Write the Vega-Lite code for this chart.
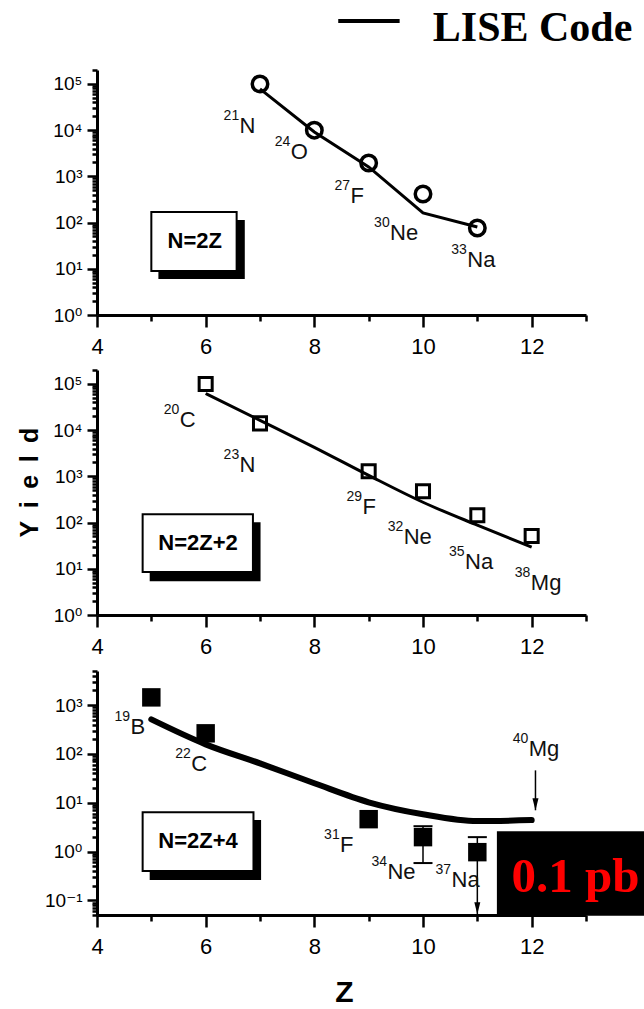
{
  "$schema": "https://vega.github.io/schema/vega-lite/v6.json",
  "width": 644,
  "height": 1009,
  "autosize": {"type": "none"},
  "padding": 0,
  "background": "white",
  "config": {
    "view": {"stroke": null},
    "axis": {
      "grid": false,
      "domainColor": "black",
      "domainWidth": 3,
      "tickColor": "black",
      "tickWidth": 2.5,
      "labelColor": "black",
      "labelOverlap": false,
      "labelFlush": false,
      "labelFont": "Liberation Sans, DejaVu Sans, sans-serif"
    }
  },
  "datasets": {
    "p1": [
      {"kind": "shadow", "x": 5.13, "x2": 6.72, "y": 6.0, "y2": 114},
      {"kind": "box", "x": 5.0, "x2": 6.57, "y": 8.96, "y2": 169},
      {"kind": "boxtext", "x": 5.8, "y": 40, "text": "N=2Z"},
      {"kind": "lise", "x": 7, "y": 78000},
      {"kind": "lise", "x": 8, "y": 9100},
      {"kind": "lise", "x": 9, "y": 1600},
      {"kind": "lise", "x": 10, "y": 162},
      {"kind": "lise", "x": 11, "y": 80},
      {"kind": "meas", "x": 7, "y": 100000},
      {"kind": "meas", "x": 8, "y": 10000},
      {"kind": "meas", "x": 9, "y": 1950},
      {"kind": "meas", "x": 10, "y": 415},
      {"kind": "meas", "x": 11, "y": 76},
      {"kind": "label", "x": 6.33, "y": 8700, "sup": "21", "sym": "N"},
      {"kind": "label", "x": 7.27, "y": 2380, "sup": "24", "sym": "O"},
      {"kind": "label", "x": 8.37, "y": 266, "sup": "27", "sym": "F"},
      {"kind": "label", "x": 9.1, "y": 42, "sup": "30", "sym": "Ne"},
      {"kind": "label", "x": 10.52, "y": 10.9, "sup": "33", "sym": "Na"},
      {"kind": "legline", "x": 8.44, "x2": 9.57, "y": 2300000},
      {"kind": "legtext", "x": 10.18, "y": 850000, "text": "LISE Code"}
    ],
    "p2": [
      {"kind": "shadow", "x": 4.97, "x2": 7.01, "y": 5.4, "y2": 102},
      {"kind": "box", "x": 4.84, "x2": 6.87, "y": 8.5, "y2": 152},
      {"kind": "boxtext", "x": 5.86, "y": 35.9, "text": "N=2Z+2"},
      {"kind": "lise", "x": 6, "y": 62000},
      {"kind": "lise", "x": 7, "y": 16300},
      {"kind": "lise", "x": 8, "y": 4250},
      {"kind": "lise", "x": 9, "y": 1050},
      {"kind": "lise", "x": 10, "y": 275},
      {"kind": "lise", "x": 11, "y": 88},
      {"kind": "lise", "x": 12, "y": 29.4},
      {"kind": "meas", "x": 6, "y": 100000},
      {"kind": "meas", "x": 7, "y": 14000},
      {"kind": "meas", "x": 9, "y": 1290},
      {"kind": "meas", "x": 10, "y": 476},
      {"kind": "meas", "x": 11, "y": 144},
      {"kind": "meas", "x": 12, "y": 51},
      {"kind": "label", "x": 5.23, "y": 11500, "sup": "20", "sym": "C"},
      {"kind": "label", "x": 6.33, "y": 1230, "sup": "23", "sym": "N"},
      {"kind": "label", "x": 8.59, "y": 152, "sup": "29", "sym": "F"},
      {"kind": "label", "x": 9.35, "y": 34, "sup": "32", "sym": "Ne"},
      {"kind": "label", "x": 10.48, "y": 9.9, "sup": "35", "sym": "Na"},
      {"kind": "label", "x": 11.69, "y": 3.4, "sup": "38", "sym": "Mg"}
    ],
    "p3": [
      {"kind": "shadow", "x": 4.97, "x2": 7.02, "y": 0.26, "y2": 4.4},
      {"kind": "box", "x": 4.84, "x2": 6.88, "y": 0.4, "y2": 6.4},
      {"kind": "boxtext", "x": 5.86, "y": 1.63, "text": "N=2Z+4"},
      {"kind": "lise", "x": 5, "y": 509},
      {"kind": "lise", "x": 6, "y": 157},
      {"kind": "lise", "x": 7, "y": 64},
      {"kind": "lise", "x": 8, "y": 25},
      {"kind": "lise", "x": 9, "y": 10.2},
      {"kind": "lise", "x": 10, "y": 5.8},
      {"kind": "lise", "x": 11, "y": 4.2},
      {"kind": "lise", "x": 12, "y": 4.4},
      {"kind": "meas", "x": 5, "y": 1440},
      {"kind": "meas", "x": 6, "y": 264},
      {"kind": "meas", "x": 9, "y": 4.6},
      {"kind": "meas", "x": 10, "y": 1.97},
      {"kind": "meas", "x": 11, "y": 0.97},
      {"kind": "err", "x": 10, "y": 0.58, "y2": 3.3},
      {"kind": "arrow", "x": 11, "y": 0.052, "y2": 1.97},
      {"kind": "arrow", "x": 12.07, "y": 7.0, "y2": 46},
      {"kind": "cap", "x": 10, "y": 3.3},
      {"kind": "cap", "x": 10, "y": 0.58},
      {"kind": "cap", "x": 11, "y": 1.97},
      {"kind": "label", "x": 4.32, "y": 251, "sup": "19", "sym": "B"},
      {"kind": "label", "x": 5.44, "y": 44, "sup": "22", "sym": "C"},
      {"kind": "label", "x": 8.18, "y": 1.0, "sup": "31", "sym": "F"},
      {"kind": "label", "x": 9.05, "y": 0.27, "sup": "34", "sym": "Ne"},
      {"kind": "label", "x": 10.23, "y": 0.187, "sup": "37", "sym": "Na"},
      {"kind": "label", "x": 11.65, "y": 89, "sup": "40", "sym": "Mg"},
      {"kind": "note", "x": 11.36, "x2": 14.5, "y": 0.048, "y2": 2.6},
      {"kind": "notetext", "x": 11.63, "y": 0.148, "text": "0.1 pb"}
    ]
  },
  "layer": [
    {
      "data": {"name": "p1"},
      "encoding": {
        "x": {"field": "x", "type": "quantitative",
          "scale": {"domain": [4, 13], "range": [97, 586], "nice": false, "zero": false},
          "axis": {"orient": "bottom", "offset": -694, "title": null,
            "values": [4, 5, 6, 7, 8, 9, 10, 11, 12, 13],
            "labelExpr": "datum.value % 2 == 0 && datum.value <= 12 ? datum.label : ''",
            "tickSize": {"condition": {"test": "datum.value % 2 == 0", "value": 12}, "value": 6},
            "labelFontSize": 22, "labelPadding": 9}},
        "y": {"field": "y", "type": "quantitative",
          "scale": {"type": "log", "domain": [1, 200000], "range": [315, 70], "nice": false},
          "axis": {"orient": "left", "offset": -97, "title": null,
            "values": [1,2,3,4,5,6,7,8,9,10,20,30,40,50,60,70,80,90,100,200,300,400,500,600,700,800,900,1000,2000,3000,4000,5000,6000,7000,8000,9000,10000,20000,30000,40000,50000,60000,70000,80000,90000,100000,200000],
            "labelExpr": "abs(log(datum.value)/LN10 - round(log(datum.value)/LN10)) < 0.001 ? '10' + (round(log(datum.value)/LN10) < 0 ? '⁻' : '') + ['⁰','¹','²','³','⁴','⁵','⁶','⁷','⁸','⁹'][abs(round(log(datum.value)/LN10))] : ''",
            "tickSize": {"condition": {"test": "abs(log(datum.value)/LN10 - round(log(datum.value)/LN10)) < 0.001", "value": 10}, "value": 5},
            "labelFontSize": 19, "labelPadding": 5}}
      },
      "layer": [
        {"transform": [{"filter": "datum.kind == 'shadow'"}], "mark": {"type": "rect", "fill": "black"},
         "encoding": {"x2": {"field": "x2"}, "y2": {"field": "y2"}}},
        {"transform": [{"filter": "datum.kind == 'box'"}], "mark": {"type": "rect", "fill": "white", "stroke": "black", "strokeWidth": 2},
         "encoding": {"x2": {"field": "x2"}, "y2": {"field": "y2"}}},
        {"transform": [{"filter": "datum.kind == 'boxtext'"}], "mark": {"type": "text", "font": "Liberation Sans, sans-serif", "fontWeight": "bold", "fontSize": 22, "align": "center", "baseline": "middle", "color": "black"},
         "encoding": {"text": {"field": "text"}}},
        {"transform": [{"filter": "datum.kind == 'lise'"}], "mark": {"type": "line", "color": "black", "strokeWidth": 3}},
        {"transform": [{"filter": "datum.kind == 'meas'"}], "mark": {"type": "point", "shape": "circle", "filled": false, "color": "black", "strokeWidth": 3.5, "size": 240, "opacity": 1}},
        {"transform": [{"filter": "datum.kind == 'label'"}], "mark": {"type": "text", "font": "Liberation Sans, sans-serif", "fontSize": 14, "align": "left", "baseline": "alphabetic", "dy": -13, "color": "#111"},
         "encoding": {"text": {"field": "sup"}}},
        {"transform": [{"filter": "datum.kind == 'label'"}], "mark": {"type": "text", "font": "Liberation Sans, sans-serif", "fontSize": 22, "align": "left", "baseline": "alphabetic", "dx": 16, "color": "#111"},
         "encoding": {"text": {"field": "sym"}}},
        {"transform": [{"filter": "datum.kind == 'legline'"}], "mark": {"type": "rule", "color": "black", "strokeWidth": 4},
         "encoding": {"x2": {"field": "x2"}}},
        {"transform": [{"filter": "datum.kind == 'legtext'"}], "mark": {"type": "text", "font": "Liberation Serif, serif", "fontWeight": "bold", "fontSize": 42, "align": "left", "baseline": "alphabetic", "color": "black"},
         "encoding": {"text": {"field": "text"}}}
      ]
    },
    {
      "data": {"name": "p2"},
      "encoding": {
        "x": {"field": "x", "type": "quantitative",
          "scale": {"domain": [4, 13], "range": [97, 586], "nice": false, "zero": false},
          "axis": {"orient": "bottom", "offset": -394, "title": null,
            "values": [4, 5, 6, 7, 8, 9, 10, 11, 12, 13],
            "labelExpr": "datum.value % 2 == 0 && datum.value <= 12 ? datum.label : ''",
            "tickSize": {"condition": {"test": "datum.value % 2 == 0", "value": 12}, "value": 6},
            "labelFontSize": 22, "labelPadding": 9}},
        "y": {"field": "y", "type": "quantitative",
          "scale": {"type": "log", "domain": [1, 200000], "range": [615, 370], "nice": false},
          "axis": {"orient": "left", "offset": -97,
            "title": "Y\u2002i\u2002e\u2002l\u2002d",
            "titleX": -68, "titleY": 482, "titleAngle": -90, "titleAlign": "center", "titleBaseline": "middle",
            "titleFont": "Liberation Sans, sans-serif", "titleFontWeight": "bold", "titleFontSize": 25, "titleColor": "black",
            "values": [1,2,3,4,5,6,7,8,9,10,20,30,40,50,60,70,80,90,100,200,300,400,500,600,700,800,900,1000,2000,3000,4000,5000,6000,7000,8000,9000,10000,20000,30000,40000,50000,60000,70000,80000,90000,100000,200000],
            "labelExpr": "abs(log(datum.value)/LN10 - round(log(datum.value)/LN10)) < 0.001 ? '10' + (round(log(datum.value)/LN10) < 0 ? '⁻' : '') + ['⁰','¹','²','³','⁴','⁵','⁶','⁷','⁸','⁹'][abs(round(log(datum.value)/LN10))] : ''",
            "tickSize": {"condition": {"test": "abs(log(datum.value)/LN10 - round(log(datum.value)/LN10)) < 0.001", "value": 10}, "value": 5},
            "labelFontSize": 19, "labelPadding": 5}}
      },
      "layer": [
        {"transform": [{"filter": "datum.kind == 'shadow'"}], "mark": {"type": "rect", "fill": "black"},
         "encoding": {"x2": {"field": "x2"}, "y2": {"field": "y2"}}},
        {"transform": [{"filter": "datum.kind == 'box'"}], "mark": {"type": "rect", "fill": "white", "stroke": "black", "strokeWidth": 2},
         "encoding": {"x2": {"field": "x2"}, "y2": {"field": "y2"}}},
        {"transform": [{"filter": "datum.kind == 'boxtext'"}], "mark": {"type": "text", "font": "Liberation Sans, sans-serif", "fontWeight": "bold", "fontSize": 22, "align": "center", "baseline": "middle", "color": "black"},
         "encoding": {"text": {"field": "text"}}},
        {"transform": [{"filter": "datum.kind == 'lise'"}], "mark": {"type": "line", "color": "black", "strokeWidth": 3, "interpolate": "monotone"}},
        {"transform": [{"filter": "datum.kind == 'meas'"}], "mark": {"type": "point", "shape": "square", "filled": false, "color": "black", "strokeWidth": 3, "size": 170, "opacity": 1}},
        {"transform": [{"filter": "datum.kind == 'label'"}], "mark": {"type": "text", "font": "Liberation Sans, sans-serif", "fontSize": 14, "align": "left", "baseline": "alphabetic", "dy": -13, "color": "#111"},
         "encoding": {"text": {"field": "sup"}}},
        {"transform": [{"filter": "datum.kind == 'label'"}], "mark": {"type": "text", "font": "Liberation Sans, sans-serif", "fontSize": 22, "align": "left", "baseline": "alphabetic", "dx": 16, "color": "#111"},
         "encoding": {"text": {"field": "sym"}}}
      ]
    },
    {
      "data": {"name": "p3"},
      "encoding": {
        "x": {"field": "x", "type": "quantitative",
          "scale": {"domain": [4, 13], "range": [97, 586], "nice": false, "zero": false},
          "axis": {"orient": "bottom", "offset": -94, "title": "Z",
            "titleX": 344, "titleY": 77, "titleAlign": "center", "titleBaseline": "middle", "titleAngle": 0,
            "titleFont": "Liberation Sans, sans-serif", "titleFontWeight": "bold", "titleFontSize": 30, "titleColor": "black",
            "values": [4, 5, 6, 7, 8, 9, 10, 11, 12, 13],
            "labelExpr": "datum.value % 2 == 0 && datum.value <= 12 ? datum.label : ''",
            "tickSize": {"condition": {"test": "datum.value % 2 == 0", "value": 12}, "value": 6},
            "labelFontSize": 22, "labelPadding": 9}},
        "y": {"field": "y", "type": "quantitative",
          "scale": {"type": "log", "domain": [0.05, 5000], "range": [915, 671], "nice": false},
          "axis": {"orient": "left", "offset": -97, "title": null,
            "values": [0.05,0.06,0.07,0.08,0.09,0.1,0.2,0.3,0.4,0.5,0.6,0.7,0.8,0.9,1,2,3,4,5,6,7,8,9,10,20,30,40,50,60,70,80,90,100,200,300,400,500,600,700,800,900,1000,2000,3000,4000,5000],
            "labelExpr": "abs(log(datum.value)/LN10 - round(log(datum.value)/LN10)) < 0.001 ? '10' + (round(log(datum.value)/LN10) < 0 ? '⁻' : '') + ['⁰','¹','²','³','⁴','⁵','⁶','⁷','⁸','⁹'][abs(round(log(datum.value)/LN10))] : ''",
            "tickSize": {"condition": {"test": "abs(log(datum.value)/LN10 - round(log(datum.value)/LN10)) < 0.001", "value": 10}, "value": 5},
            "labelFontSize": 19, "labelPadding": 5}}
      },
      "layer": [
        {"transform": [{"filter": "datum.kind == 'shadow'"}], "mark": {"type": "rect", "fill": "black"},
         "encoding": {"x2": {"field": "x2"}, "y2": {"field": "y2"}}},
        {"transform": [{"filter": "datum.kind == 'box'"}], "mark": {"type": "rect", "fill": "white", "stroke": "black", "strokeWidth": 2},
         "encoding": {"x2": {"field": "x2"}, "y2": {"field": "y2"}}},
        {"transform": [{"filter": "datum.kind == 'boxtext'"}], "mark": {"type": "text", "font": "Liberation Sans, sans-serif", "fontWeight": "bold", "fontSize": 22, "align": "center", "baseline": "middle", "color": "black"},
         "encoding": {"text": {"field": "text"}}},
        {"transform": [{"filter": "datum.kind == 'lise'"}], "mark": {"type": "line", "color": "black", "strokeWidth": 6, "strokeCap": "round", "interpolate": "monotone"}},
        {"transform": [{"filter": "datum.kind == 'err' || datum.kind == 'arrow'"}], "mark": {"type": "rule", "color": "black", "strokeWidth": 1.5},
         "encoding": {"y2": {"field": "y2"}}},
        {"transform": [{"filter": "datum.kind == 'cap'"}], "mark": {"type": "tick", "orient": "horizontal", "size": 19, "thickness": 2, "color": "black", "opacity": 1}},
        {"transform": [{"filter": "datum.kind == 'meas'"}], "mark": {"type": "point", "shape": "square", "filled": true, "color": "black", "size": 340, "opacity": 1}},
        {"transform": [{"filter": "datum.kind == 'arrow'"}], "mark": {"type": "point", "shape": "M-0.5,-2L0.5,-2L0,0Z", "filled": true, "color": "black", "size": 144, "opacity": 1}},
        {"transform": [{"filter": "datum.kind == 'label'"}], "mark": {"type": "text", "font": "Liberation Sans, sans-serif", "fontSize": 14, "align": "left", "baseline": "alphabetic", "dy": -13, "color": "#111"},
         "encoding": {"text": {"field": "sup"}}},
        {"transform": [{"filter": "datum.kind == 'label'"}], "mark": {"type": "text", "font": "Liberation Sans, sans-serif", "fontSize": 22, "align": "left", "baseline": "alphabetic", "dx": 16, "color": "#111"},
         "encoding": {"text": {"field": "sym"}}},
        {"transform": [{"filter": "datum.kind == 'note'"}], "mark": {"type": "rect", "fill": "black"},
         "encoding": {"x2": {"field": "x2"}, "y2": {"field": "y2"}}},
        {"transform": [{"filter": "datum.kind == 'notetext'"}], "mark": {"type": "text", "font": "Liberation Serif, serif", "fontWeight": "bold", "fontSize": 49, "align": "left", "baseline": "alphabetic", "color": "#ff0000"},
         "encoding": {"text": {"field": "text"}}}
      ]
    }
  ],
  "resolve": {
    "scale": {"x": "independent", "y": "independent"},
    "axis": {"x": "independent", "y": "independent"}
  }
}
